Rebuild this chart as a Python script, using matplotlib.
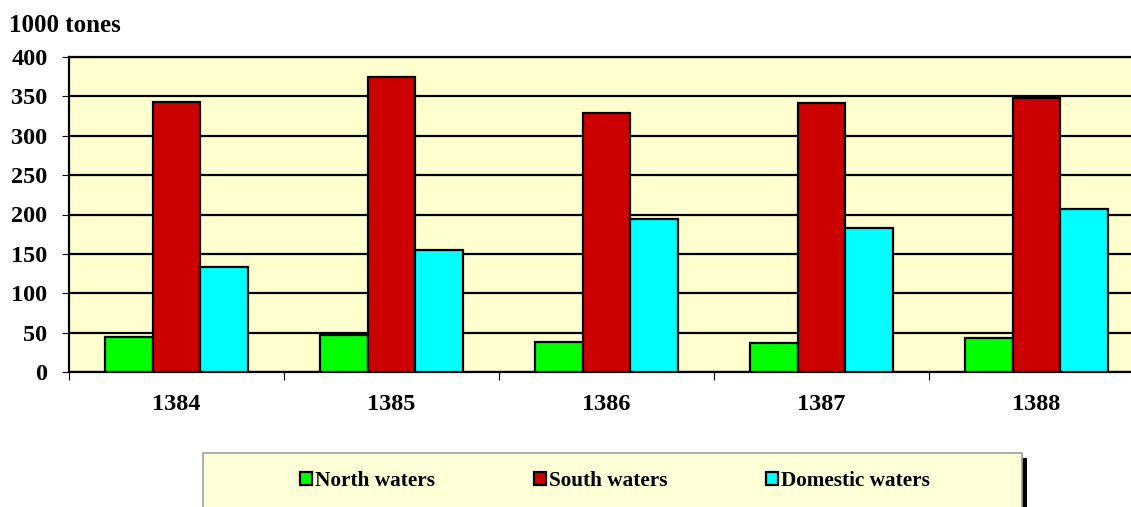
import matplotlib
matplotlib.use("Agg")
import matplotlib.pyplot as plt
from matplotlib.patches import Rectangle
import numpy as np

years = ["1384", "1385", "1386", "1387", "1388"]
north = [44, 47, 38, 37, 43]
south = [343, 375, 329, 342, 348]
domestic = [133, 155, 194, 183, 207]
series_names = ["North waters", "South waters", "Domestic waters"]
colors = ["#00FF00", "#CC0000", "#00FFFF"]

plt.rcParams['font.family'] = ['Liberation Serif', 'DejaVu Serif']
plt.rcParams['font.weight'] = 'bold'

W, H = 1131, 507
fig = plt.figure(figsize=(W/100, H/100), dpi=100)
left, right, top, bottom = 69, 1144, 57, 372
ax = fig.add_axes([left/W, 1-bottom/H, (right-left)/W, (bottom-top)/H])
ax.set_facecolor("#FFFFD0")

x = np.arange(len(years)) + 0.5
bw = 0.223
for i, (vals, c, name) in enumerate(zip([north, south, domestic], colors, series_names)):
    ax.bar(x + (i-1)*bw, vals, width=bw, color=c, edgecolor="black", linewidth=1.6,
           label=name, zorder=3)

ax.set_xlim(0, len(years))
ax.set_ylim(0, 400)
ax.set_yticks(np.arange(0, 401, 50))
ax.yaxis.grid(True, color="black", linewidth=1.6, zorder=1)
ax.set_axisbelow(True)
ax.set_xticks(x)
ax.set_xticklabels(years, fontsize=17.5, fontweight='bold')
ax.set_xticks(np.arange(0, len(years)+1), minor=True)
ax.tick_params(axis='x', which='major', length=0, pad=16)
ax.tick_params(axis='x', which='minor', length=6, width=0.8, direction='out')
ax.tick_params(axis='y', length=5, width=0.8, direction='out', pad=10.5)
for lab in ax.get_yticklabels():
    lab.set_fontsize(17.5)
    lab.set_fontweight('bold')
for s in ['left', 'bottom', 'top']:
    ax.spines[s].set_linewidth(1.6)
    ax.spines[s].set_color('black')
ax.spines['right'].set_visible(False)

fig.text(9/W, 1-25/H, "1000 tones", fontsize=18, fontweight='bold', va='center', ha='left')

# legend box with shadow
bx0, bx1, by0, by1 = 203, 1022, 453, 520
fig.patches.append(Rectangle(((bx0+5)/W, 1-(by1+5)/H), (bx1-bx0)/W, (by1-by0)/H,
                             transform=fig.transFigure, facecolor='black', edgecolor='none', zorder=1))
fig.patches.append(Rectangle((bx0/W, 1-by1/H), (bx1-bx0)/W, (by1-by0)/H,
                             transform=fig.transFigure, facecolor='#FFFFD8', edgecolor='#A0A0A0',
                             linewidth=1.2, zorder=2))
leg = fig.legend(loc='center left', bbox_to_anchor=(300/W, 1-481/H), ncol=3, frameon=False,
                 handlelength=0.56, handleheight=0.56, handletextpad=0.15, columnspacing=4.65,
                 borderpad=0, borderaxespad=0,
                 prop={'size': 15.3, 'weight': 'bold'})
leg.set_zorder(5)

fig.savefig("out.png", dpi=100)
